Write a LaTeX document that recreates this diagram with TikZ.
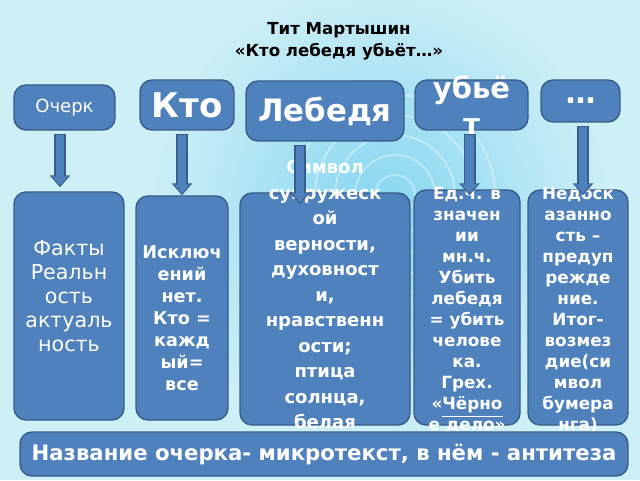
\documentclass[tikz,border=0pt]{standalone}
\usepackage{fontspec}
\setmainfont{DejaVu Sans}
\usetikzlibrary{arrows.meta,positioning,calc}
\definecolor{boxblue}{HTML}{4F81BD}
\definecolor{boxedge}{HTML}{385D8A}
\definecolor{bgcyan}{HTML}{CDEFF6}
\definecolor{bgglow}{HTML}{86D6F0}
\newcommand{\fs}[2]{\fontsize{#1}{#2}\selectfont}
\tikzset{
  box/.style={draw=boxedge,line width=0.7pt,fill=boxblue,rounded corners=6pt},
  lbl/.style={text=white,align=center,inner sep=0pt},
  blk/.style={draw=boxedge,line width=6pt,-{Triangle[width=10pt,length=6pt]}},
  blkin/.style={draw=boxblue,line width=4.4pt,-{Triangle[width=7.6pt,length=4.6pt]},shorten >=0.9pt,shorten <=0.6pt}
}
\begin{document}
\begin{tikzpicture}[x=0.5pt,y=-0.5pt]
 \useasboundingbox (0,0) rectangle (640,480);
 \fill[bgcyan] (0,0) rectangle (640,480);
 \shade[inner color=bgglow,outer color=bgcyan] (380,210) circle (230);
 \foreach \r in {20,40,60,80,100}
   \draw[white,opacity=0.35,line width=1pt] (395,195) circle (\r);
 % title
 \node[font=\bfseries\fs{8.3}{10}] (title) at (339,30) {Тит Мартышин};
 \node[font=\bfseries\fs{8.3}{10}] (subtitle) at (339,52) {«Кто лебедя убьёт…»};
 % upper row
 \node[box,minimum width=50.5pt,minimum height=22.5pt] (ocherk) at (64.5,107.5) {};
 \node[lbl,font=\fs{9}{11}] at (ocherk) {Очерк};
 \node[box,minimum width=47pt,minimum height=25pt] (kto) at (187,105) {};
 \node[lbl,font=\bfseries\fs{17}{20}] at (kto) {Кто};
 \node[box,minimum width=79pt,minimum height=30pt] (lebedya) at (325,111) {};
 \node[lbl,font=\bfseries\fs{15.4}{18}] at (lebedya) {Лебедя};
 \node[box,minimum width=56.5pt,minimum height=25pt] (ubyot) at (471.5,105) {};
 \node[lbl,font=\bfseries\fs{14.5}{18}] at (ubyot) {убьё\\т};
 \node[box,minimum width=39.5pt,minimum height=21pt] (dots) at (580.5,101) {};
 \node[lbl,font=\bfseries\fs{15}{18}] at (dots) {…};
 % lower row
 \node[box,minimum width=55pt,minimum height=114pt] (fakty) at (69,306) {};
 \node[lbl,font=\fs{10.3}{12}] at (69,296) {Факты\\Реальн\\ость\\актуаль\\ность};
 \node[box,minimum width=46pt,minimum height=112pt] (iskl) at (182,308) {};
 \node[lbl,font=\bfseries\fs{8.8}{11}] at (182,318) {Исключ\\ений\\нет.\\Кто =\\кажд\\ый=\\все};
 \node[box,minimum width=85pt,minimum height=116pt] (symb) at (325,309) {};
 \node[lbl,font=\bfseries\fs{9}{12.75},anchor=north] at (325,160) {Символ\\супружеск\\ой\\верности,\\духовност\\и,\\нравственн\\ости;\\птица\\солнца,\\белая};
 \node[box,minimum width=53pt,minimum height=117.5pt] (edch) at (467,307.5) {};
 \node[lbl,font=\bfseries\fs{8.4}{10.5},anchor=north] at (467,187) {Ед.ч. в\\значен\\ии\\мн.ч.\\Убить\\лебедя\\= убить\\челове\\ка.\\Грех.\\«\underline{Чёрно}\\е дело»};
 \node[box,minimum width=50pt,minimum height=117.5pt] (nedo) at (578,307.5) {};
 \node[lbl,font=\bfseries\fs{8.4}{10.5},anchor=north] at (578,187) {Недоск\\азанно\\сть –\\предуп\\режде\\ние.\\Итог-\\возмез\\дие(си\\мвол\\бумера\\нга)};
 % connectors
 \foreach \s/\t/\dx/\ey in {ocherk/fakty/-2.25/2, kto/iskl/-2.5/0, lebedya/symb/-12.5/-6, ubyot/edch/-1/-3, dots/nedo/1.25/-3}{
   \draw[blk] ([xshift=\dx pt,yshift=-1.5pt]\s.south) -- ([xshift=\dx pt,yshift=\ey pt]\s.south |- \t.north);
   \draw[blkin] ([xshift=\dx pt,yshift=-1.5pt]\s.south) -- ([xshift=\dx pt,yshift=\ey pt]\s.south |- \t.north);
 }
 % bottom bar
 \node[box,minimum width=304pt,minimum height=22pt] (bar) at (324,454) {};
 \node[lbl,font=\bfseries\fs{10.6}{12}] at (bar) {Название очерка- микротекст, в нём - антитеза};
\end{tikzpicture}
\end{document}
